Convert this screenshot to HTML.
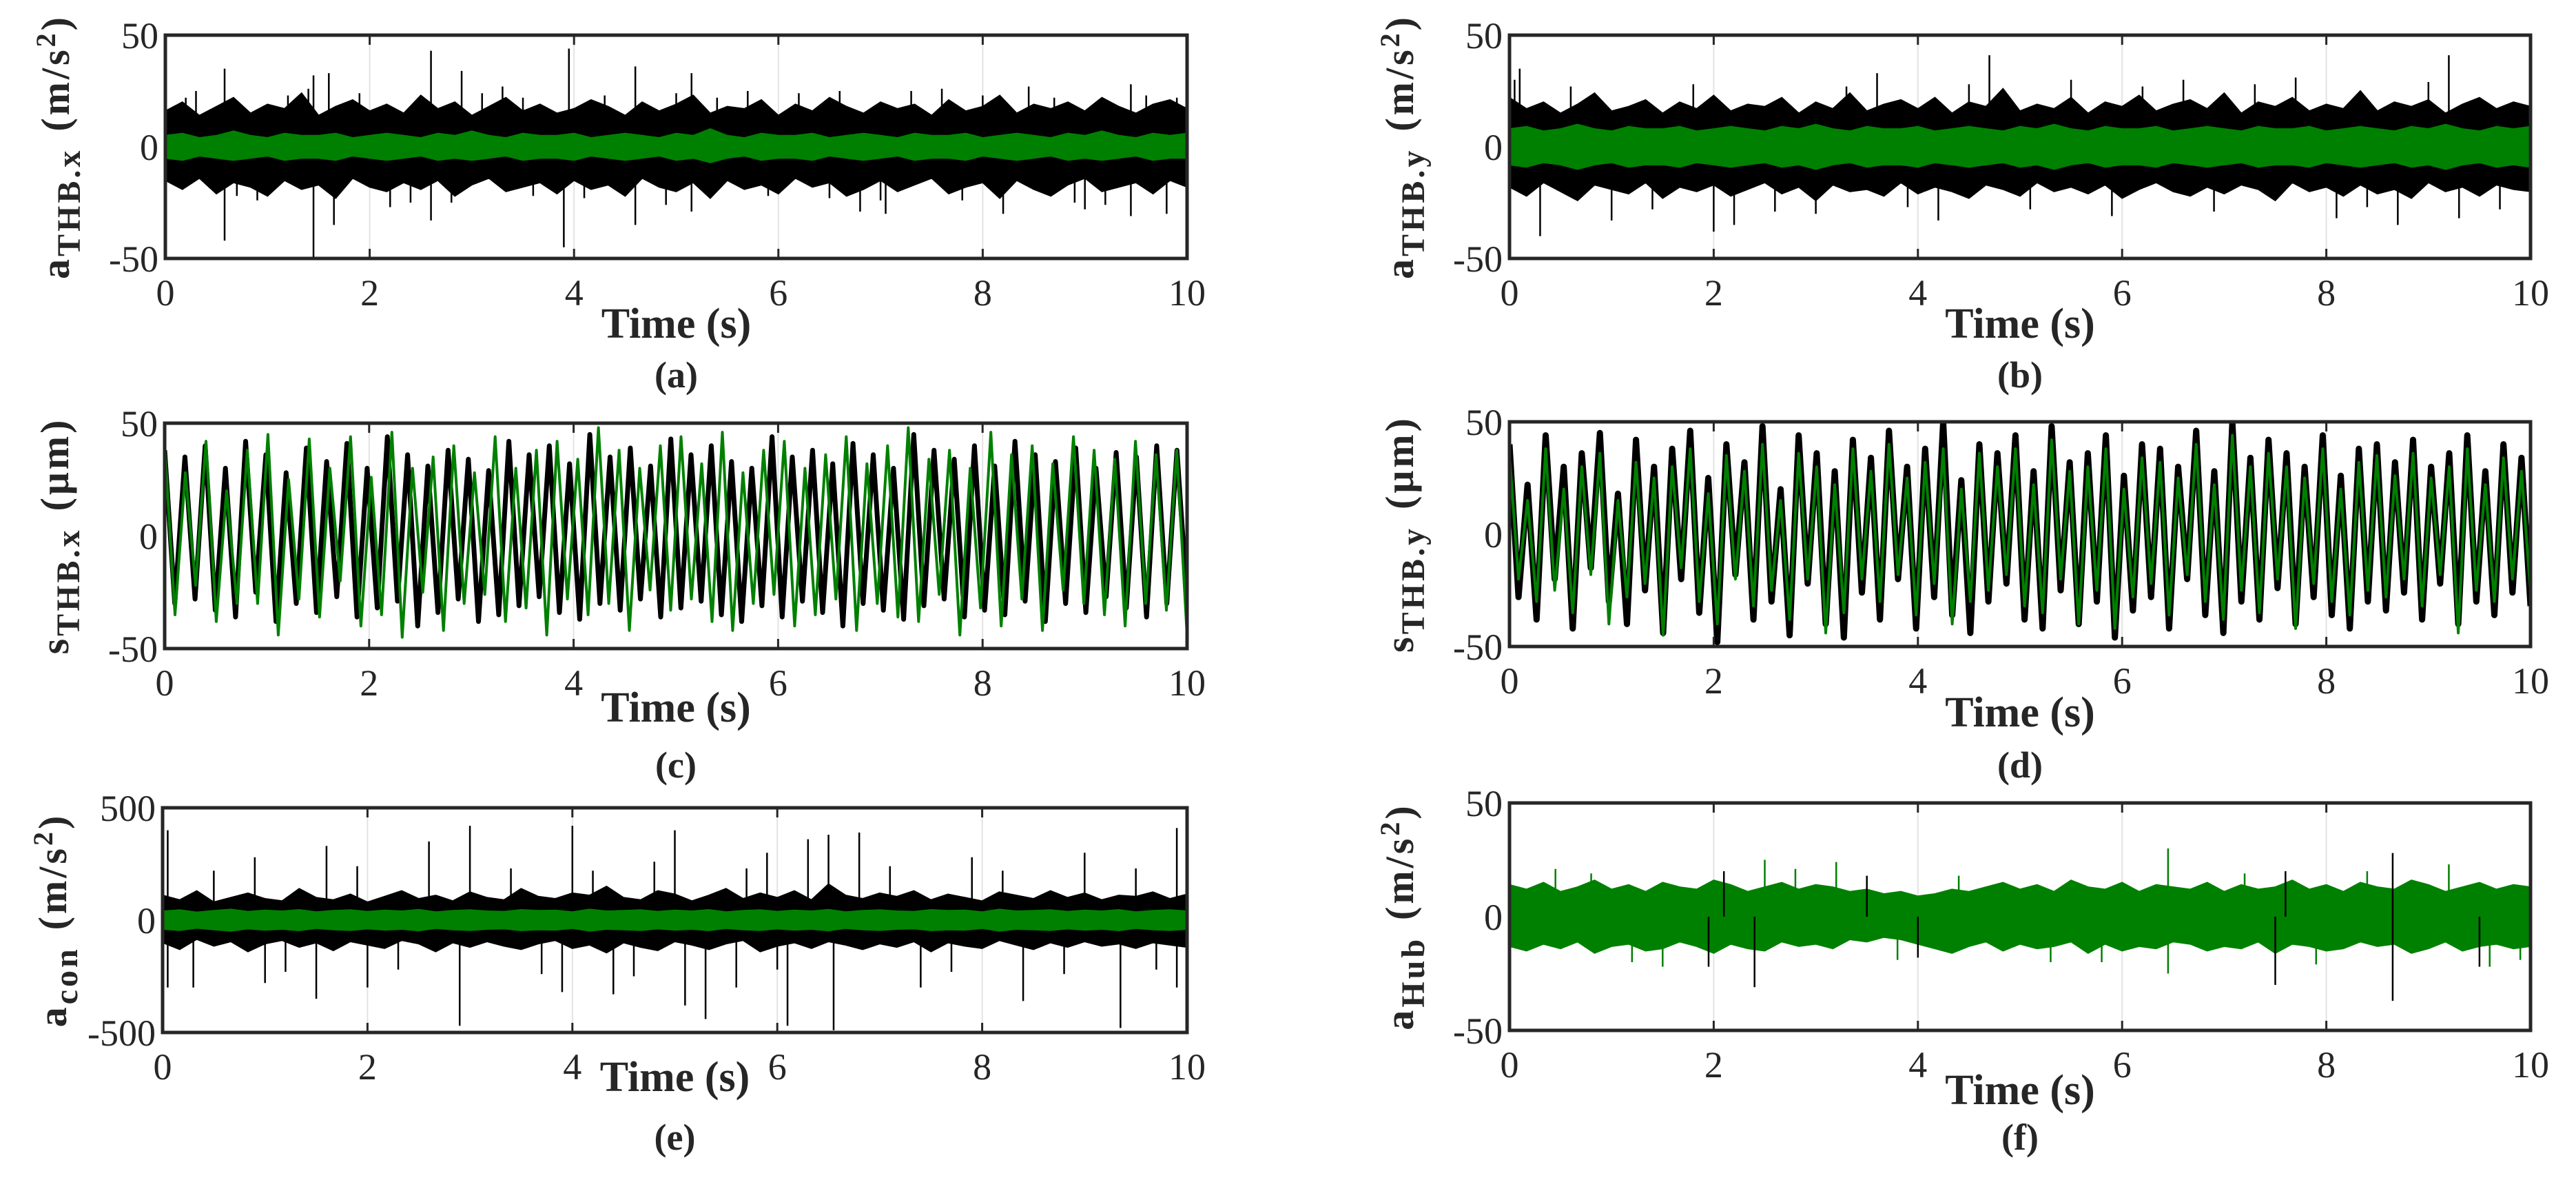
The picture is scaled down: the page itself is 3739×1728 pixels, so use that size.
<!DOCTYPE html>
<html><head><meta charset="utf-8"><style>
html,body{margin:0;padding:0;background:#fff;}
svg{display:block;}
text{font-family:"Liberation Serif",serif;fill:#262626;}
</style></head><body>
<svg id="fig" width="3739" height="1728" viewBox="0 0 3739 1728" xmlns="http://www.w3.org/2000/svg"></svg>
<script>
const xTicks=[0,2,4,6,8,10];
const yTicksSmall=[-50,0,50];
const yTicksLarge=[-500,0,500];
// panel a
const aBlackUp=[16,20,14,18,22,15,19,17,24,14,18,21,16,19,15,23,17,20,14,18,22,16,19,15,17,21,18,14,20,16,19,23,15,18,17,21,14,19,16,22,18,15,20,17,19,14,21,16,18,23,15,19,17,20,16,22,18,15,19,21,17];
const aBlackLo=[-15,-19,-14,-21,-16,-18,-22,-15,-19,-17,-23,-14,-18,-20,-16,-19,-15,-22,-17,-14,-20,-18,-16,-21,-15,-19,-17,-22,-14,-18,-20,-16,-23,-15,-19,-17,-21,-14,-18,-16,-22,-19,-15,-20,-17,-14,-21,-18,-16,-23,-15,-19,-22,-17,-14,-20,-18,-16,-21,-15,-18];
const aGreenUp=[5,6,4,5,7,5,4,6,5,5,6,4,5,6,5,4,6,5,7,5,4,6,5,5,6,4,5,6,5,4,6,5,8,5,4,6,5,5,6,4,5,6,5,4,6,5,5,6,4,5,6,5,4,6,5,7,5,4,6,5,6];
const aGreenLo=[-5,-6,-4,-5,-6,-5,-4,-6,-5,-5,-6,-4,-5,-6,-5,-4,-6,-5,-6,-5,-4,-6,-5,-5,-6,-4,-5,-6,-5,-4,-6,-5,-7,-5,-4,-6,-5,-5,-6,-4,-5,-6,-5,-4,-6,-5,-5,-6,-4,-5,-6,-5,-4,-6,-5,-6,-5,-4,-6,-5,-5];
const aSpikeT=[0.58,0.58,1.45,1.45,1.65,1.6,2.6,2.6,2.9,3.9,3.95,4.6,4.6,5.15,5.15,6.8,7.05,8.2,8.45,9.0,9.45,9.45,9.8,1.4,0.3,3.3,5.7,7.6,2.2,0.2,0.9,1.2,2.4,3.1,3.6,4.3,4.9,5.4,6.2,6.5,7.3,7.8,8.7,9.2,9.6,0.7,1.9,2.8,3.5,4.1,5.0,5.9,6.6,7.0,8.0,8.9,9.9];
const aSpikeV=[35,-42,-50,32,-35,33,43,-33,34,-45,44,36,-35,33,-29,-29,-30,-30,27,-28,-31,28,-30,26,25,27,25,26,-27,22,-24,23,-25,24,-22,23,-26,22,24,-23,25,-24,22,-26,23,-22,24,-25,22,-23,24,-22,25,-24,23,-25,22];
// panel b
const bBlackUp=[22,17,20,15,19,24,16,18,21,15,20,17,23,16,19,18,22,15,20,17,24,16,19,21,17,22,15,20,18,26,16,19,17,22,15,20,18,23,16,19,21,17,24,15,20,18,22,16,19,17,25,16,20,18,21,15,19,22,17,20,18];
const bBlackLo=[-18,-22,-16,-20,-24,-17,-19,-21,-16,-23,-18,-20,-17,-22,-19,-16,-21,-18,-24,-17,-20,-19,-22,-16,-21,-18,-20,-23,-17,-19,-22,-16,-20,-18,-21,-17,-23,-19,-16,-20,-22,-18,-21,-17,-19,-24,-16,-20,-18,-22,-17,-21,-19,-23,-16,-20,-18,-22,-17,-19,-20];
const bGreenUp=[8,9,7,8,10,8,7,9,8,8,9,7,8,9,8,7,9,8,10,8,7,9,8,8,9,7,8,9,8,7,9,8,10,8,7,9,8,8,9,7,8,9,8,7,9,8,8,9,7,8,9,8,7,9,8,10,8,7,9,8,9];
const bGreenLo=[-8,-9,-7,-8,-10,-8,-7,-9,-8,-8,-9,-7,-8,-9,-8,-7,-9,-8,-10,-8,-7,-9,-8,-8,-9,-7,-8,-9,-8,-7,-9,-8,-10,-8,-7,-9,-8,-8,-9,-7,-8,-9,-8,-7,-9,-8,-8,-9,-7,-8,-9,-8,-7,-9,-8,-10,-8,-7,-9,-8,-9];
const bSpikeT=[0.1,0.3,1.0,2.0,2.2,3.6,4.7,4.2,5.5,6.6,7.7,8.1,9.2,9.3,3.0,8.7,0.05,5.9,0.6,1.4,1.8,2.6,3.3,3.9,4.5,5.1,6.2,6.9,7.3,8.4,9.0,9.7];
const bSpikeV=[35,-40,-33,-38,-35,33,41,-33,30,30,31,-32,41,-32,-30,-35,30,-31,27,-28,28,-29,27,-27,28,-28,27,-29,28,-27,29,-28];
// panel c (alternating extremes)
const cBlack=[38,-30,35,-28,40,-33,30,-36,42,-25,36,-38,28,-30,39,-34,33,-27,41,-36,30,-32,44,-29,36,-40,31,-34,38,-28,34,-38,29,-35,42,-31,36,-27,40,-34,32,-37,45,-30,35,-33,39,-28,31,-36,43,-32,36,-29,40,-35,33,-38,30,-31,44,-36,35,-29,38,-34,32,-40,41,-30,36,-33,30,-37,45,-31,38,-28,34,-36,40,-33,31,-35,42,-29,36,-38,33,-30,39,-34,30,-27,37,-32,35,-36,40,-30,38,-28];
const cGreen=[40,-35,28,-22,42,-38,20,-30,38,-30,45,-44,25,-28,43,-36,30,-20,44,-40,26,-35,46,-45,30,-25,35,-42,40,-30,28,-26,44,-38,30,-32,38,-44,42,-28,34,-35,48,-30,38,-42,30,-24,40,-33,44,-28,32,-38,46,-42,28,-30,38,-26,42,-40,30,-35,36,-28,44,-42,32,-30,40,-36,48,-38,34,-26,38,-44,30,-32,46,-40,36,-28,40,-42,32,-24,44,-30,38,-35,34,-40,42,-30,36,-33,38,-44];
// panel d
const dBlack=[40,-28,22,-38,44,-20,30,-42,36,-15,45,-30,18,-40,42,-25,30,-44,38,-20,46,-35,25,-48,40,-18,32,-38,48,-30,20,-45,44,-22,36,-40,28,-46,42,-26,34,-38,46,-20,30,-42,38,-28,50,-36,24,-44,40,-30,36,-22,44,-38,28,-42,48,-25,32,-40,36,-30,44,-46,26,-34,40,-28,38,-42,30,-20,46,-36,28,-44,50,-30,34,-38,42,-24,36,-40,30,-28,44,-36,26,-42,38,-30,40,-34,32,-26,42,-38,30,-22,36,-40,44,-30,28,-36,40,-26,34,-32];
const dGreen=[35,-20,15,-30,38,-25,20,-35,30,-18,36,-40,15,-28,32,-22,25,-45,30,-15,38,-30,18,-40,35,-20,28,-32,40,-25,15,-38,36,-20,30,-44,22,-35,38,-20,28,-30,40,-18,25,-36,32,-22,38,-40,20,-30,36,-25,30,-18,38,-32,22,-35,42,-20,28,-40,30,-25,38,-42,20,-28,34,-22,32,-36,25,-18,40,-30,22,-38,44,-25,30,-35,36,-20,30,-42,25,-22,38,-30,20,-36,32,-25,35,-28,26,-20,36,-32,25,-18,30,-44,38,-25,22,-30,34,-20,28,-26];
// panel e
const eBlackUp=[110,90,130,80,100,120,95,85,140,100,90,115,80,105,130,95,110,85,125,100,90,140,105,95,120,110,150,100,90,130,115,85,110,140,95,120,100,130,90,160,110,95,120,105,130,90,115,100,85,125,110,95,130,100,120,90,110,105,125,95,115];
const eBlackLo=[-100,-130,-85,-115,-95,-140,-105,-90,-120,-100,-135,-95,-110,-125,-90,-105,-140,-100,-120,-95,-115,-130,-105,-90,-125,-110,-145,-100,-120,-135,-95,-110,-130,-105,-90,-140,-115,-100,-125,-95,-110,-130,-105,-120,-95,-140,-100,-115,-125,-90,-110,-130,-100,-120,-95,-115,-105,-125,-100,-110,-120];
const eGreenUp=[40,45,35,42,48,38,44,40,46,36,42,45,38,44,40,47,36,42,45,40,38,46,42,44,36,48,40,42,45,38,44,40,46,36,42,45,38,44,40,47,36,42,45,40,38,46,42,44,36,48,40,42,45,38,44,40,46,36,42,45,40];
const eGreenLo=[-40,-45,-35,-42,-48,-38,-44,-40,-46,-36,-42,-45,-38,-44,-40,-47,-36,-42,-45,-40,-38,-46,-42,-44,-36,-48,-40,-42,-45,-38,-44,-40,-46,-36,-42,-45,-38,-44,-40,-47,-36,-42,-45,-40,-38,-46,-42,-44,-36,-48,-40,-42,-45,-38,-44,-40,-46,-36,-42,-45,-40];
const eSpikeT=[0.05,0.05,0.3,1.6,1.5,2.9,2.6,3.0,4.0,4.4,5.0,5.1,5.3,5.9,6.1,6.3,6.5,6.55,6.8,7.4,8.4,9.0,9.35,9.9,9.9,1.0,0.9,3.9,2.0,7.9,4.8,5.6,0.5,1.2,1.9,2.3,3.4,3.7,4.2,4.6,5.7,6.0,7.1,7.7,8.2,8.8,9.5,9.7];
const eSpikeV=[400,-300,-300,330,-350,-470,350,420,420,-330,400,-380,-440,300,-470,360,380,-490,390,-300,-360,300,-480,410,-300,-280,280,-320,-300,280,260,-300,220,-230,240,-220,230,-240,220,-250,230,-220,240,-230,220,-240,230,-220];
// panel f
const fGreenUp=[14,12,15,11,13,16,12,14,11,15,13,12,16,14,11,13,15,12,14,13,11,12,10,11,9,10,12,11,13,15,12,14,11,16,13,12,15,11,14,13,12,15,11,14,12,13,16,12,14,11,15,13,12,16,14,11,13,15,12,14,13];
const fGreenLo=[-13,-15,-12,-14,-11,-16,-13,-12,-15,-14,-11,-13,-16,-12,-14,-15,-11,-13,-12,-14,-10,-11,-9,-10,-12,-14,-16,-13,-11,-15,-12,-14,-13,-11,-16,-12,-15,-13,-14,-11,-12,-15,-13,-14,-11,-16,-12,-13,-15,-14,-11,-13,-12,-16,-14,-11,-15,-13,-12,-14,-13];
const fBlackSpikeT=[1.95,2.1,4.0,7.5,8.65,8.65,9.5,7.6,2.4,3.5];
const fBlackSpikeV=[-22,20,-18,-30,-37,28,-22,20,-31,18];
const fGreenSpikeT=[2.5,3.2,6.45,9.2,1.5,6.45,0.0,0.45,5.3,9.6,0.8,1.2,2.8,3.8,4.4,5.8,7.2,7.9,8.4,9.9];
const fGreenSpikeV=[25,24,30,23,-22,-25,22,21,-20,-22,19,-20,21,-19,18,-20,19,-21,20,-19];

const svg=document.getElementById('fig');
const NS='http://www.w3.org/2000/svg';
function mk(tag,attrs,parent){const e=document.createElementNS(NS,tag);for(const k in attrs)e.setAttribute(k,attrs[k]);(parent||svg).appendChild(e);return e;}

const panels=[
 {id:'a',x0:240,x1:1723,y0:51,y1:375,ymin:-50,ymax:50,yt:yTicksSmall,tb:490,lb:562,sym:'a',sub:'THB.x',unit:'(m/s',sq:true},
 {id:'b',x0:2191,x1:3673,y0:51,y1:375,ymin:-50,ymax:50,yt:yTicksSmall,tb:490,lb:562,sym:'a',sub:'THB.y',unit:'(m/s',sq:true},
 {id:'c',x0:239,x1:1723,y0:614,y1:941,ymin:-50,ymax:50,yt:yTicksSmall,tb:1047,lb:1128,sym:'s',sub:'THB.x',unit:'(\u03bcm)',sq:false},
 {id:'d',x0:2191,x1:3673,y0:612,y1:938,ymin:-50,ymax:50,yt:yTicksSmall,tb:1054,lb:1128,sym:'s',sub:'THB.y',unit:'(\u03bcm)',sq:false},
 {id:'e',x0:236,x1:1723,y0:1172,y1:1498,ymin:-500,ymax:500,yt:yTicksLarge,tb:1583,lb:1668,sym:'a',sub:'con',unit:'(m/s',sq:true},
 {id:'f',x0:2191,x1:3673,y0:1165,y1:1495,ymin:-50,ymax:50,yt:yTicksSmall,tb:1602,lb:1668,sym:'a',sub:'Hub',unit:'(m/s',sq:true}
];

function series(p,arr){const n=arr.length;return arr.map((v,i)=>[p.X(10*i/(n-1)),p.Y(v)]);}
function band(p,up,lo,color,name){
  const u=series(p,up), l=series(p,lo).reverse();
  const pts=u.concat(l).map(q=>q[0].toFixed(1)+','+q[1].toFixed(1)).join(' ');
  const el=mk('polygon',{points:pts,fill:color,stroke:color,'stroke-width':2,'stroke-linejoin':'miter'},p.g);
  
  
}
function spikes(p,ts,vs,color,name){
  ts.forEach((t,i)=>{
    const el=mk('line',{x1:p.X(t),x2:p.X(t),y1:p.Y(0),y2:p.Y(vs[i]),stroke:color,'stroke-width':2.5},p.g);
    
    
  });
}
function line(p,arr,color,w,name){
  const pts=series(p,arr).map(q=>q[0].toFixed(1)+','+q[1].toFixed(1)).join(' ');
  const el=mk('polyline',{points:pts,fill:'none',stroke:color,'stroke-width':w,'stroke-linejoin':'round'},p.g);
  
  
}

panels.forEach(p=>{
  p.X=t=>p.x0+(t-0)/(10-0)*(p.x1-p.x0);
  p.Y=v=>p.y1-(v-p.ymin)/(p.ymax-p.ymin)*(p.y1-p.y0);
  const grp=mk('g',{});
  
  
  xTicks.slice(1,-1).forEach(t=>{
    const gl=mk('line',{x1:p.X(t),x2:p.X(t),y1:p.y0,y2:p.y1,stroke:'#e3e3e3','stroke-width':2},grp);
    
    
  });
  const clipId='clip-'+p.id;
  const cp=mk('clipPath',{id:clipId},grp);
  mk('rect',{x:p.x0,y:p.y0,width:p.x1-p.x0,height:p.y1-p.y0},cp);
  p.g=mk('g',{'clip-path':'url(#'+clipId+')'},grp);
  
  
  p.grp=grp;
});

const [A,B,C,D,E,F]=panels;
band(A,aBlackUp,aBlackLo,'#000','black-band'); spikes(A,aSpikeT,aSpikeV,'#000','black-spike'); band(A,aGreenUp,aGreenLo,'#008000','green-band');
band(B,bBlackUp,bBlackLo,'#000','black-band'); spikes(B,bSpikeT,bSpikeV,'#000','black-spike'); band(B,bGreenUp,bGreenLo,'#008000','green-band');
line(C,cBlack,'#000',7,'black-trace'); line(C,cGreen,'#008000',4,'green-trace');
line(D,dBlack,'#000',9,'black-trace'); line(D,dGreen,'#008000',4,'green-trace');
band(E,eBlackUp,eBlackLo,'#000','black-band'); spikes(E,eSpikeT,eSpikeV,'#000','black-spike'); band(E,eGreenUp,eGreenLo,'#008000','green-band');
band(F,fGreenUp,fGreenLo,'#008000','green-band'); spikes(F,fGreenSpikeT,fGreenSpikeV,'#008000','green-spike'); spikes(F,fBlackSpikeT,fBlackSpikeV,'#000','black-spike');

panels.forEach(p=>{
  const grp=p.grp;
  const fr=mk('rect',{x:p.x0,y:p.y0,width:p.x1-p.x0,height:p.y1-p.y0,fill:'none',stroke:'#262626','stroke-width':5},grp);
  
  
  xTicks.forEach(t=>{
    mk('line',{x1:p.X(t),x2:p.X(t),y1:p.y1,y2:p.y1-14,stroke:'#262626','stroke-width':3},grp);
    mk('line',{x1:p.X(t),x2:p.X(t),y1:p.y0,y2:p.y0+14,stroke:'#262626','stroke-width':3},grp);
    const tx=mk('text',{x:p.X(t),y:p.y1+68,'font-size':54,'text-anchor':'middle'},grp);
    tx.textContent=t;
    
    
  });
  p.yt.forEach(v=>{
    const ty=mk('text',{x:p.x0-10,y:p.Y(v)+19,'font-size':54,'text-anchor':'end'},grp);
    ty.textContent=v;
    
    
  });
  const xl=mk('text',{x:(p.x0+p.x1)/2,y:p.tb,'font-size':62,'font-weight':'bold','text-anchor':'middle'},grp);
  xl.textContent='Time (s)';
  
  
  const pl=mk('text',{x:(p.x0+p.x1)/2,y:p.lb,'font-size':54,'font-weight':'bold','text-anchor':'middle'},grp);
  pl.textContent='('+p.id+')';
  
  
  const cy=(p.y0+p.y1)/2, cx=p.x0-140;
  const yl=mk('text',{x:0,y:0,'font-size':58,'font-weight':'bold','text-anchor':'middle','letter-spacing':4,transform:'translate('+cx+','+cy+') rotate(-90)'},grp);
  
  
  const s1=mk('tspan',{},yl); s1.textContent=p.sym;
  const s2=mk('tspan',{dy:16,'font-size':48},yl); s2.textContent=p.sub;
  const s3=mk('tspan',{dy:-16,dx:24},yl); s3.textContent=p.unit;
  if(p.sq){const s4=mk('tspan',{dy:-20,'font-size':40},yl); s4.textContent='2';
    const s5=mk('tspan',{dy:20},yl); s5.textContent=')';}
});
</script>
</body></html>
